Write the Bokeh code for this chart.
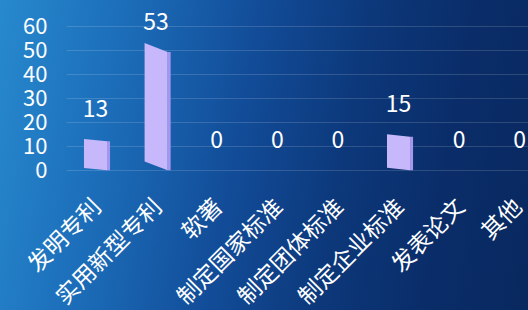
import math
import numpy as np
from bokeh.plotting import figure
from bokeh.models import ColumnDataSource, FixedTicker, Range1d
from bokeh.embed import file_html
from bokeh.resources import INLINE
from bokeh.core.properties import value

categories = ["发明专利", "实用新型专利", "软著", "制定国家标准", "制定团体标准", "制定企业标准", "发表论文", "其他"]
counts = [13, 53, 0, 0, 0, 15, 0, 0]
y_ticks = [0, 10, 20, 30, 40, 50, 60]

FONT = "Noto Sans CJK SC"

idx = np.arange(len(categories), dtype=float)
vals = np.array(counts, dtype=float)

half = 0.19
shear = 0.07
side = 0.05

front_xs = [[i - half, i + half, i + half, i - half] for i in idx]
front_ys = [[shear * v, 0.0, (1 - shear) * v, v] for v in vals]
side_xs = [[i + half, i + half + side, i + half + side, i + half] for i in idx]
side_ys = [[0.0, 0.0, (1 - shear) * v, (1 - shear) * v] for v in vals]

src_front = ColumnDataSource(dict(xs=front_xs, ys=front_ys))
src_side = ColumnDataSource(dict(xs=side_xs, ys=side_ys))

label_y = np.minimum(vals + 12.9, 62.1)
src_lab = ColumnDataSource(dict(x=idx, y=label_y, t=[str(c) for c in counts]))

p = figure(frame_width=462, frame_height=162, output_backend="svg", toolbar_location=None,
           x_range=Range1d(-0.4785, 7.145), y_range=Range1d(-0.5, 67),
           min_border_left=66, min_border_right=0, min_border_top=9, min_border_bottom=10)

p.background_fill_alpha = 0
p.border_fill_alpha = 0
p.outline_line_color = None
p.styles = {
    "background": "linear-gradient(100deg, #2789ce 0%, #1c6db9 22%, #124c98 45%, #0c3779 65%, #0a2d69 82%, #08285f 100%)",
    "position": "absolute",
    "top": "0px",
    "left": "0px",
    "width": "528px",
    "height": "310px",
    "overflow": "hidden",
}

p.patches("xs", "ys", source=src_side, fill_color="#a596ee", line_color=None)
p.patches("xs", "ys", source=src_front, fill_color="#c6b8fb", line_color=None)

p.text(x="x", y="y", text="t", source=src_lab, text_color="white",
       text_font=value(FONT), text_font_size="23px",
       text_align="center", text_baseline="middle")

p.xgrid.visible = False
p.ygrid.ticker = FixedTicker(ticks=y_ticks)
p.ygrid.grid_line_color = "white"
p.ygrid.grid_line_alpha = 0.15

p.xaxis.ticker = FixedTicker(ticks=list(range(len(categories))))
p.xaxis.major_label_overrides = {i: c for i, c in enumerate(categories)}
p.xaxis.major_label_orientation = math.pi / 4
p.xaxis.major_label_text_color = "white"
p.xaxis.major_label_text_font = FONT
p.xaxis.major_label_text_font_size = "23px"
p.xaxis.major_label_standoff = 24
p.xaxis.axis_line_color = None
p.xaxis.major_tick_line_color = None
p.xaxis.minor_tick_line_color = None

p.yaxis.ticker = FixedTicker(ticks=y_ticks)
p.yaxis.major_label_text_color = "white"
p.yaxis.major_label_text_font = FONT
p.yaxis.major_label_text_font_size = "22px"
p.yaxis.major_label_standoff = 13
p.yaxis.axis_line_color = None
p.yaxis.major_tick_line_color = None
p.yaxis.minor_tick_line_color = None

open("out.html", "w").write(file_html(p, INLINE))
